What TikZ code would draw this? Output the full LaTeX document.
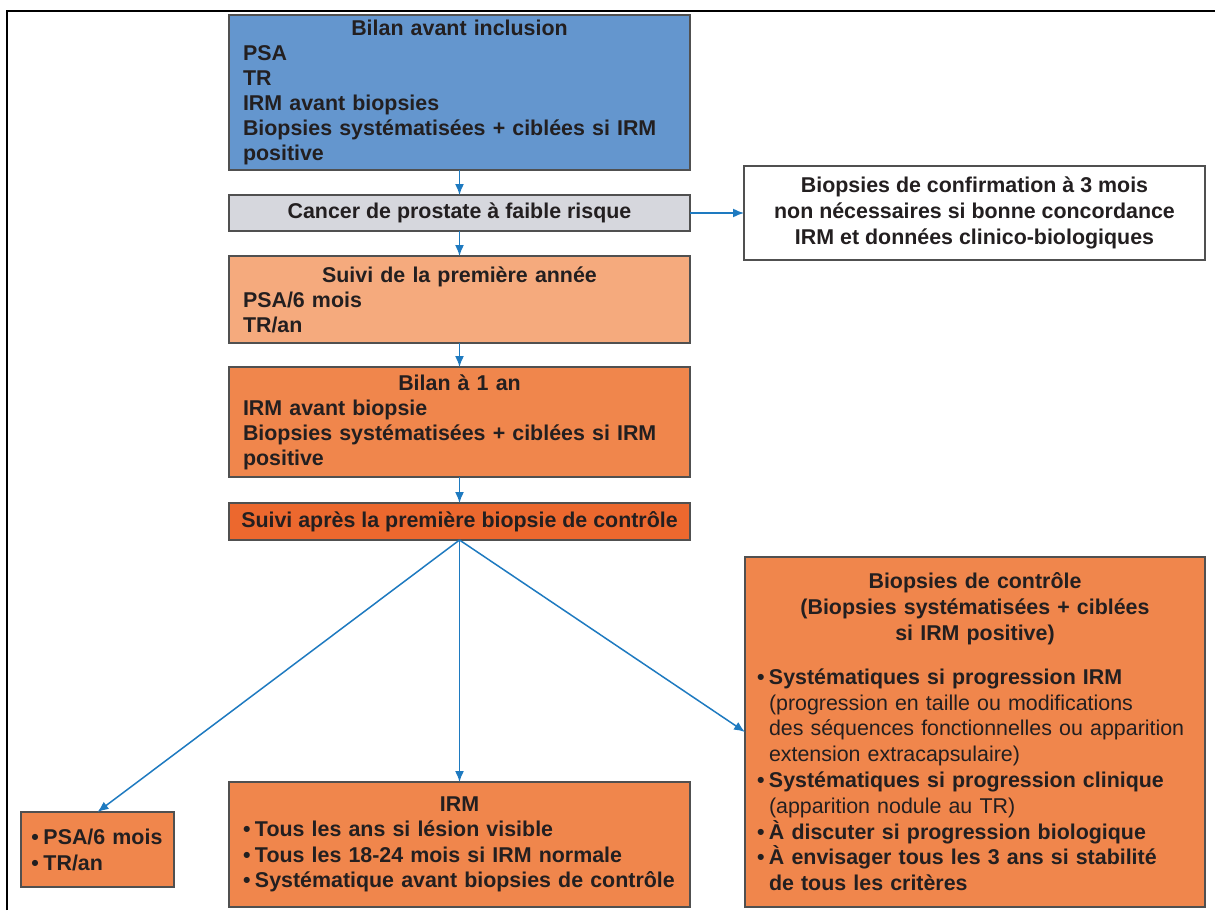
\documentclass[tikz,border=0pt]{standalone}
\usepackage{fontspec}
\setmainfont{Liberation Sans}
\usetikzlibrary{
    positioning,
    arrows.meta
}

\definecolor{bluefill}{RGB}{100,150,206}
\definecolor{grayfill}{RGB}{214,215,221}
\definecolor{peachfill}{RGB}{245,170,125}
\definecolor{orangefill}{RGB}{240,134,76}
\definecolor{darkorange}{RGB}{236,104,46}
\definecolor{arrowblue}{RGB}{30,122,192}
\definecolor{boxline}{RGB}{80,80,80}
\definecolor{textdark}{RGB}{35,31,32}

% puce de liste avec retrait suspendu
\newcommand{\puce}{\hangindent=6pt\hangafter=1\makebox[6pt][l]{\textbullet}}

\begin{document}
\begin{tikzpicture}[
    x=0.5pt, y=-0.5pt,
    box/.style={draw=boxline, line width=0.8pt, outer sep=0pt, text=textdark,
        font=\bfseries\fontsize{10.7}{12.5}\selectfont},
    mainbox/.style={box, text width=216.5pt, align=left, inner xsep=7pt, inner ysep=2pt},
    linebox/.style={box, align=center, minimum width=230.5pt, inner ysep=2pt},
    arrow/.style={-{Latex[length=5.5pt,width=4.5pt]}, draw=arrowblue, line width=0.75pt}
]
\useasboundingbox (0,0) rectangle (1215,910);

% ================= CADRE =================
\draw[line width=1pt] (7,910) -- (7,11) -- (1215,11);

% ================= COLONNE =================
\node[mainbox, fill=bluefill, minimum height=77.5pt, anchor=north] (inclusion) at (459.5,15)
    {{\centering Bilan avant inclusion\par}PSA\\TR\\IRM avant biopsies\\Biopsies systématisées + ciblées si IRM\\positive};
\node[linebox, fill=grayfill, minimum height=18pt, below=12.5pt of inclusion] (risque)
    {Cancer de prostate à faible risque};
\node[mainbox, fill=peachfill, minimum height=43.5pt, below=12.5pt of risque] (annee)
    {{\centering Suivi de la première année\par}PSA/6 mois\\TR/an};
\node[mainbox, fill=orangefill, minimum height=55pt, below=12pt of annee] (bilan1)
    {{\centering Bilan à 1 an\par}IRM avant biopsie\\Biopsies systématisées + ciblées si IRM\\positive};
\node[linebox, fill=darkorange, minimum height=18.5pt, below=13pt of bilan1] (suivi)
    {Suivi après la première biopsie de contrôle};

\node[linebox, fill=white, minimum height=47pt, right=27pt of risque,
      font=\bfseries\fontsize{10.7}{13}\selectfont] (confirm)
    {Biopsies de confirmation à 3 mois\\non nécessaires si bonne concordance\\IRM et données clinico-biologiques};

% ================= SUIVI =================
\node[mainbox, fill=orangefill, minimum height=62.5pt, below=121pt of suivi,
      font=\bfseries\fontsize{10.7}{12.75}\selectfont] (irm)
    {{\centering IRM\par}\puce Tous les ans si lésion visible\par
     \puce Tous les 18-24 mois si IRM normale\par
     \puce Systématique avant biopsies de contrôle\par};

\node[box, fill=orangefill, text width=66pt, align=left, inner xsep=5.25pt,
      minimum height=37.5pt, font=\bfseries\fontsize{10.7}{13}\selectfont] (psa) at (97.5,849.5)
    {\puce PSA/6 mois\par\puce TR/an\par};

\node[box, fill=orangefill, text width=218pt, align=left, inner xsep=6pt,
      minimum height=175pt, font=\bfseries\fontsize{10.7}{12.9}\selectfont] (controle) at (975,732)
    {{\centering Biopsies de contrôle\\(Biopsies systématisées + ciblées\\si IRM positive)\par}
     \vspace{9pt}
     \puce Systématiques si progression IRM\newline
     {\mdseries(progression en taille ou modifications\newline des séquences fonctionnelles ou apparition\newline extension extracapsulaire)}\par
     \puce Systématiques si progression clinique\newline
     {\mdseries(apparition nodule au TR)}\par
     \puce À discuter si progression biologique\par
     \puce À envisager tous les 3 ans si stabilité\newline de tous les critères\par};

% ================= FLECHES =================
\draw[arrow] (inclusion) -- (risque);
\draw[arrow] (risque) -- (annee);
\draw[arrow] (risque) -- (confirm);
\draw[arrow] (annee) -- (bilan1);
\draw[arrow] (bilan1) -- (suivi);

\draw[arrow] (suivi.south) -- (psa.north);
\draw[arrow] (suivi) -- (irm);
\draw[arrow] (suivi.south) -- (controle.west);

\end{tikzpicture}
\end{document}
